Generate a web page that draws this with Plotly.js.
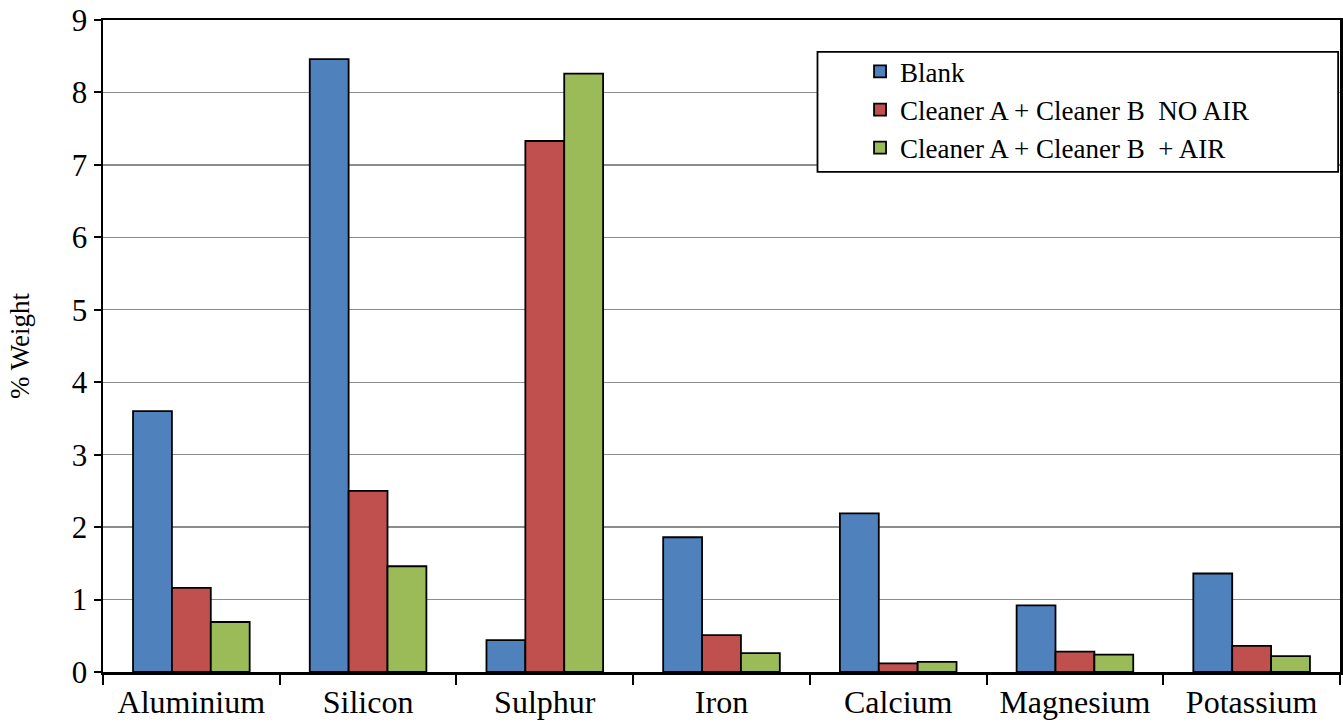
<!DOCTYPE html>
<html>
<head>
<meta charset="utf-8">
<script src="https://cdn.plot.ly/plotly-3.0.1.min.js"></script>
</head>
<body style="margin:0;background:#fff">
<div id="chart"></div>
<script>
const categories = ["Aluminium", "Silicon", "Sulphur", "Iron", "Calcium", "Magnesium", "Potassium"];
const blank = [3.60, 8.46, 0.44, 1.86, 2.19, 0.92, 1.36];
const noAir = [1.16, 2.50, 7.33, 0.51, 0.12, 0.28, 0.36];
const withAir = [0.69, 1.46, 8.26, 0.26, 0.14, 0.24, 0.22];
const seriesNames = ["Blank", "Cleaner A + Cleaner B  NO AIR", "Cleaner A + Cleaner B  + AIR"];
const seriesColors = ["#4F81BD", "#C0504D", "#9BBB59"];
const yTicks = [0, 1, 2, 3, 4, 5, 6, 7, 8, 9];

const seriesData = [blank, noAir, withAir];
const traces = seriesData.map((vals, i) => ({
  type: "bar",
  x: categories,
  y: vals,
  name: seriesNames[i],
  marker: {color: seriesColors[i], line: {color: "#000", width: 1.8}}
}));

Plotly.newPlot("chart", traces, {
  width: 1343,
  height: 725,
  margin: {l: 103, r: 3, t: 20, b: 53},
  paper_bgcolor: "#fff",
  plot_bgcolor: "#fff",
  barmode: "group",
  bargap: 0.34,
  bargroupgap: 0,
  font: {family: "Liberation Serif", size: 27, color: "#000"},
  xaxis: {
    type: "category",
    showline: true, linecolor: "#000", linewidth: 2.5,
    mirror: true,
    ticks: "outside", ticklen: 10, tickwidth: 2, tickcolor: "#000",
    tickson: "boundaries",
    showgrid: false,
    tickfont: {family: "Liberation Serif", size: 32, color: "#000"}
  },
  yaxis: {
    range: [0, 9],
    tickvals: yTicks,
    ticktext: yTicks.map(String),
    showline: true, linecolor: "#000", linewidth: 2.5,
    mirror: true,
    ticks: "outside", ticklen: 7, tickwidth: 2, tickcolor: "#000",
    showgrid: true, gridcolor: "#8c8c8c", gridwidth: 1.3,
    zeroline: false,
    tickfont: {family: "Liberation Serif", size: 31, color: "#000"},
    title: {text: "% Weight", font: {family: "Liberation Serif", size: 27, color: "#000"}, standoff: 35}
  },
  showlegend: true,
  legend: {
    x: 0.612, y: 0.958, xanchor: "left", yanchor: "top",
    bgcolor: "rgba(0,0,0,0)",
    borderwidth: 0,
    font: {family: "Liberation Serif", size: 27, color: "#000"},
    traceorder: "normal"
  },
  shapes: [{
    type: "rect", xref: "paper", yref: "paper",
    x0: 0.5776, x1: 0.9985, y0: 0.767, y1: 0.951,
    line: {color: "#000", width: 1.8}, fillcolor: "#fff", layer: "above"
  }]
}, {staticPlot: true});
</script>
</body>
</html>
